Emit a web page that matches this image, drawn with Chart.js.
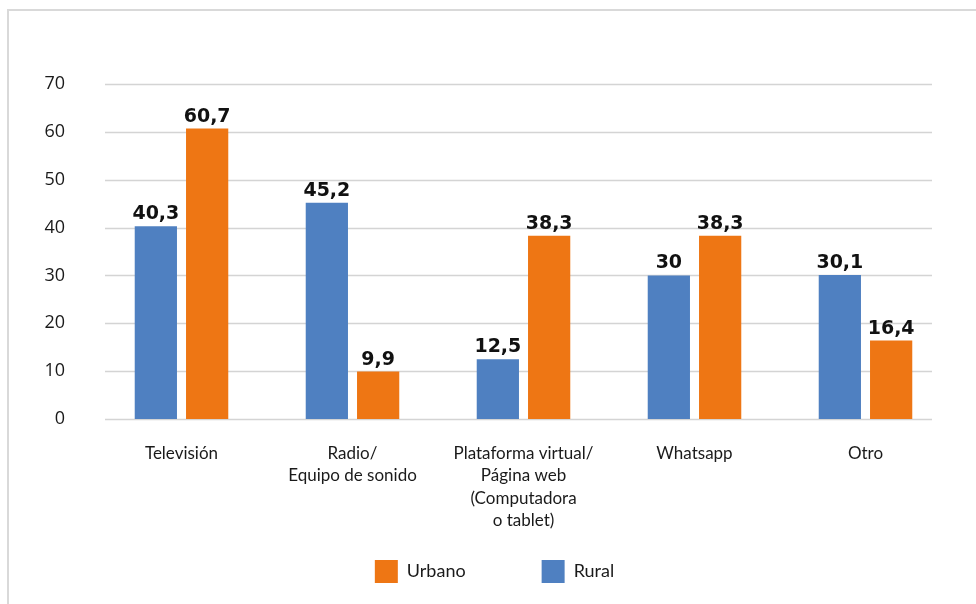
<!DOCTYPE html>
<html lang="es">
<head>
<meta charset="utf-8">
<title>Medios utilizados: urbano y rural</title>
<script src="https://cdn.jsdelivr.net/npm/chart.js@4.4.1/dist/chart.umd.min.js"></script>
<style>
  html, body { margin: 0; padding: 0; background: #ffffff; overflow: hidden; }
  #frame {
    position: absolute; left: 7px; top: 9px;
    width: 1000px; height: 640px;
    border: 2px solid #d9d9d9; box-sizing: border-box;
  }
  #wrap { position: absolute; left: 0; top: 0; width: 976px; height: 604px; }
</style>
</head>
<body>
<div id="frame"></div>
<div id="wrap"><canvas id="chart"></canvas></div>
<script>
// Categorías (etiquetas de varias líneas)
const categories = [
  ["Televisión"],
  ["Radio/", "Equipo de sonido"],
  ["Plataforma virtual/", "Página web", "(Computadora", "o tablet)"],
  ["Whatsapp"],
  ["Otro"]
];
// Porcentajes por ámbito
const rural  = [40.3, 45.2, 12.5, 30, 30.1];
const urbano = [60.7, 9.9, 38.3, 38.3, 16.4];
const yTicks = [0, 10, 20, 30, 40, 50, 60, 70];

const BLUE = "#4F80C1";
const ORANGE = "#EE7614";

// Líneas de cuadrícula horizontales, algo más cortas que el área de trazado
const gridPlugin = {
  id: "shortGrid",
  beforeDatasetsDraw(chart) {
    const { ctx, chartArea, scales } = chart;
    ctx.save();
    ctx.strokeStyle = "#d4d4d4";
    ctx.lineWidth = 1.5;
    yTicks.forEach(v => {
      const y = Math.round(scales.y.getPixelForValue(v)) + 0.5;
      ctx.beginPath();
      ctx.moveTo(chartArea.left + 9, y);
      ctx.lineTo(chartArea.right - 19, y);
      ctx.stroke();
    });
    ctx.restore();
  }
};

// Valores sobre cada barra, con coma decimal
const valueLabels = {
  id: "valueLabels",
  afterDatasetsDraw(chart) {
    const { ctx } = chart;
    ctx.save();
    ctx.font = "bold 19px 'DejaVu Sans'";
    ctx.fillStyle = "#111111";
    ctx.textAlign = "center";
    ctx.textBaseline = "alphabetic";
    chart.data.datasets.forEach((ds, di) => {
      const meta = chart.getDatasetMeta(di);
      meta.data.forEach((bar, i) => {
        const txt = String(ds.data[i]).replace(".", ",");
        ctx.fillText(txt, bar.x, bar.y - 7);
      });
    });
    ctx.restore();
  }
};

// Coloca la leyenda bajo las etiquetas de categoría
const legendPlacement = {
  id: "legendPlacement",
  afterLayout(chart) {
    const lg = chart.legend;
    if (!lg) return;
    const w = lg.right - lg.left;
    const cx = 494.5;
    const h = 23 + lg.options.labels.padding + 10;
    lg.left = cx - w / 2;
    lg.right = cx + w / 2;
    lg.top = 560 - lg.options.labels.padding;
    lg.bottom = lg.top + h;
    lg.height = h;
  }
};

new Chart(document.getElementById("chart"), {
  type: "bar",
  data: {
    labels: categories,
    datasets: [
      { label: "Rural", data: rural, backgroundColor: BLUE },
      { label: "Urbano", data: urbano, backgroundColor: ORANGE }
    ]
  },
  options: {
    responsive: true,
    maintainAspectRatio: false,
    animation: false,
    categoryPercentage: 0.6,
    barPercentage: 0.8235,
    layout: { padding: { left: 40, right: 25, top: 84, bottom: 54 } },
    plugins: {
      tooltip: { enabled: false },
      legend: {
        position: "bottom",
        reverse: true,
        maxHeight: 1,
        labels: {
          boxWidth: 23,
          boxHeight: 23,
          padding: 76,
          color: "#1a1a1a",
          font: { family: "Lato", size: 18 }
        }
      }
    },
    scales: {
      x: {
        grid: { display: false, drawTicks: false },
        border: { display: false },
        ticks: {
          color: "#1a1a1a",
          padding: 23,
          maxRotation: 0,
          autoSkip: false,
          font: { family: "Lato", size: 17, lineHeight: 1.32 }
        },
        afterFit(scale) { scale.height = 130; }
      },
      y: {
        min: 0,
        max: 70,
        grid: { display: false, drawTicks: false },
        border: { display: false },
        ticks: {
          stepSize: 10,
          color: "#1a1a1a",
          padding: 31,
          font: { family: "Open Sans", size: 18 }
        },
        afterFit(scale) { scale.width = 56; }
      }
    }
  },
  plugins: [gridPlugin, valueLabels, legendPlacement]
});
</script>
</body>
</html>
